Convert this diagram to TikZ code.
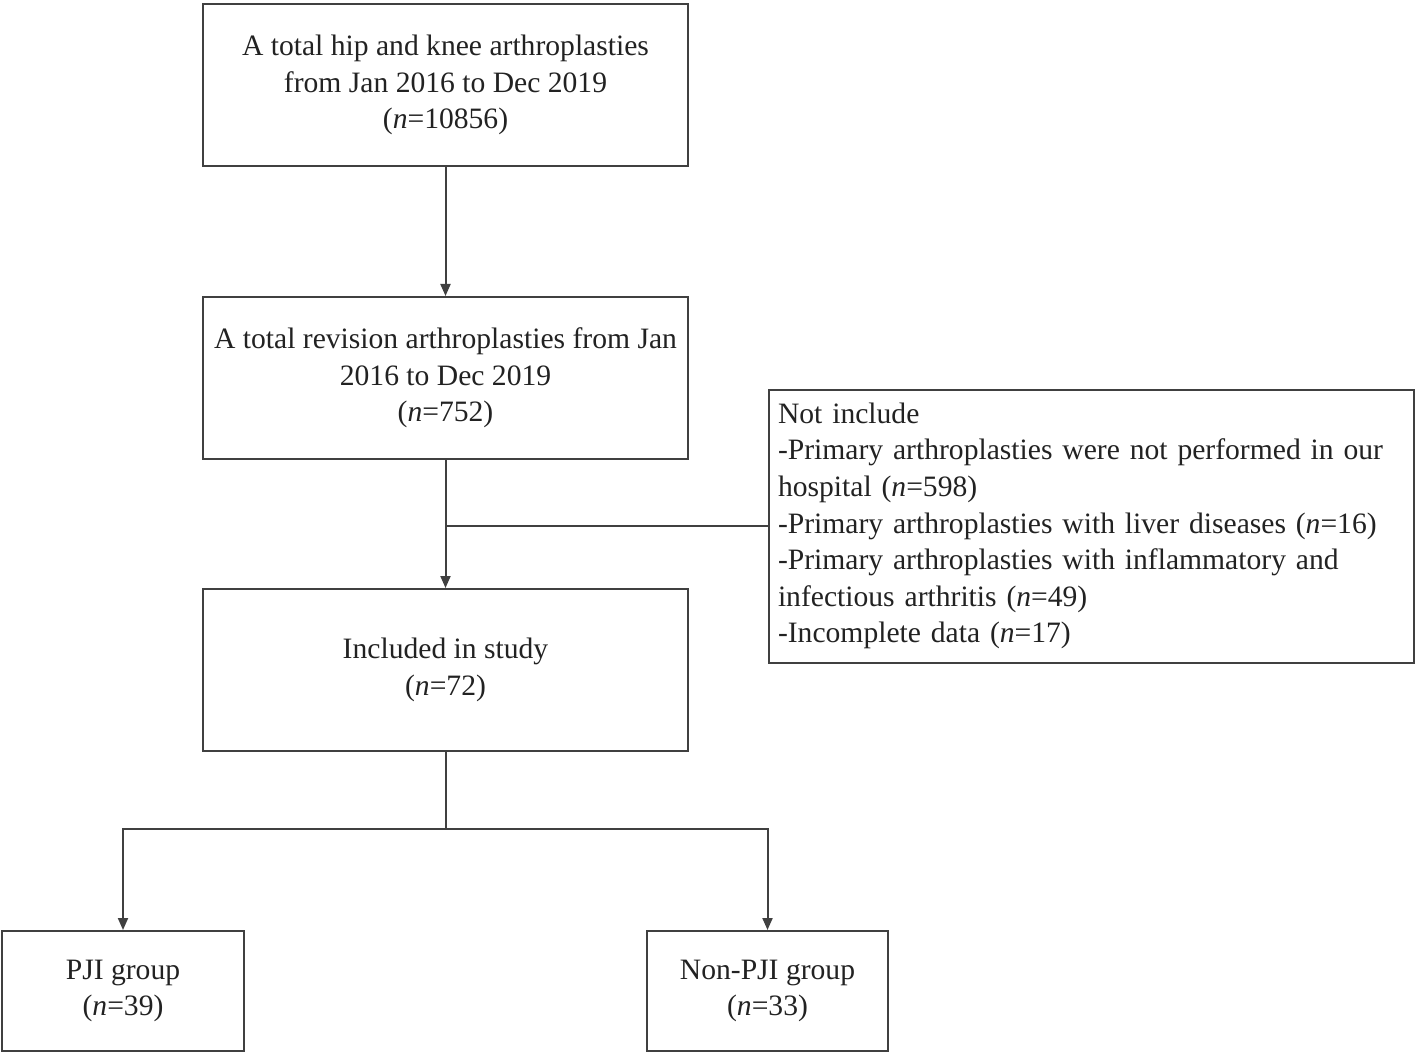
\documentclass[tikz,border=0pt]{standalone}
\usepackage{fontspec}
\setmainfont{Liberation Serif}
\usetikzlibrary{arrows.meta}
\definecolor{ln}{HTML}{404040}
\definecolor{tx}{HTML}{222222}
\newcommand\nvar{\textit{n}}
\begin{document}
\begin{tikzpicture}[x=0.5pt,y=-0.5pt,
  box/.style={draw=ln, line width=1pt, rectangle, inner sep=0pt, align=center,
    font=\fontsize{14.8}{18.3}\selectfont, text=tx},
  conn/.style={draw=ln, line width=1pt},
  arr/.style={conn, -{Triangle[length=6pt,width=5pt]}}]
\useasboundingbox (0,0) rectangle (1416,1053);
\node[box, minimum width=242.5pt, minimum height=81pt] (b1) at (445.5,85)
  {A total hip and knee arthroplasties\\ from Jan 2016 to Dec 2019\\ (\nvar=10856)};
\node[box, minimum width=242.5pt, minimum height=81pt] (b2) at (445.5,378)
  {A total revision arthroplasties from Jan\\ 2016 to Dec 2019\\ (\nvar=752)};
\node[box, minimum width=242.5pt, minimum height=81pt] (b4) at (445.5,670)
  {Included in study\\ (\nvar=72)};
\node[box, align=left, text width=313.5pt, inner xsep=4.5pt, minimum height=136.5pt] (b3) at (1091.5,526)
  {Not include\\
   -Primary arthroplasties were not performed in our\\
   hospital (\nvar=598)\\
   -Primary arthroplasties with liver diseases (\nvar=16)\\
   -Primary arthroplasties with inflammatory and\\
   infectious arthritis (\nvar=49)\\
   -Incomplete data (\nvar=17)};
\node[box, minimum width=121pt, minimum height=60pt] (b5) at (123,991)
  {PJI group\\ (\nvar=39)};
\node[box, minimum width=120.5pt, minimum height=60pt] (b6) at (767.5,991)
  {Non-PJI group\\ (\nvar=33)};
\coordinate (split) at (b4.south |- 0,829);
\draw[arr] (b1.south) -- (b2.north);
\draw[arr] (b2.south) -- (b4.north);
\draw[conn] (b3.west) -- (b3.west -| b2.south);
\draw[conn] (b4.south) -- (split);
\draw[arr] (split) -| (b5.north);
\draw[arr] (split) -| (b6.north);
\end{tikzpicture}
\end{document}
